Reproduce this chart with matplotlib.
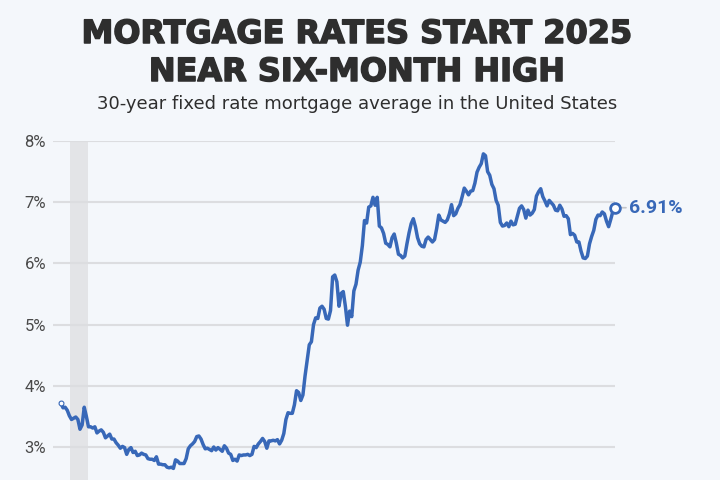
import matplotlib
matplotlib.use("Agg")
import matplotlib.pyplot as plt
import matplotlib.patheffects as pe
import pandas as pd

# Weekly 30-year fixed mortgage rate (%), starting 2020-01-02
rates_2020 = [3.72, 3.64, 3.65, 3.60, 3.51, 3.45, 3.47, 3.49, 3.45, 3.29, 3.36, 3.65, 3.50,
              3.33, 3.33, 3.31, 3.33, 3.23, 3.26, 3.28, 3.24, 3.15, 3.18, 3.21, 3.13, 3.13,
              3.07, 3.03, 2.98, 3.01, 2.99, 2.88, 2.96, 2.99, 2.91, 2.93, 2.86, 2.87, 2.90,
              2.88, 2.87, 2.81, 2.80, 2.80, 2.78, 2.84, 2.72, 2.72, 2.71, 2.71, 2.67, 2.66, 2.67]
rates_2021 = [2.65, 2.79, 2.77, 2.73, 2.73, 2.73, 2.81, 2.97, 3.02, 3.05, 3.09, 3.17, 3.18,
              3.13, 3.04, 2.97, 2.98, 2.96, 2.94, 3.00, 2.95, 2.99, 2.96, 2.93, 3.02, 2.98,
              2.90, 2.88, 2.78, 2.80, 2.77, 2.87, 2.86, 2.87, 2.87, 2.88, 2.86, 2.88, 3.01,
              2.99, 3.05, 3.09, 3.14, 3.09, 2.98, 3.10, 3.10, 3.11, 3.10, 3.12, 3.05, 3.11]
rates_2022 = [3.22, 3.45, 3.56, 3.55, 3.55, 3.69, 3.92, 3.89, 3.76, 3.85, 4.16, 4.42, 4.67,
              4.72, 5.00, 5.11, 5.10, 5.27, 5.30, 5.25, 5.10, 5.09, 5.23, 5.78, 5.81, 5.70,
              5.30, 5.51, 5.54, 5.30, 4.99, 5.22, 5.13, 5.55, 5.66, 5.89, 6.02, 6.29, 6.70,
              6.66, 6.92, 6.94, 7.08, 6.95, 7.08, 6.61, 6.58, 6.49, 6.33, 6.31, 6.27, 6.42]
rates_2023 = [6.48, 6.33, 6.15, 6.13, 6.09, 6.12, 6.32, 6.50, 6.65, 6.73, 6.60, 6.42, 6.32,
              6.28, 6.27, 6.39, 6.43, 6.39, 6.35, 6.39, 6.57, 6.79, 6.71, 6.69, 6.67, 6.71,
              6.81, 6.96, 6.78, 6.81, 6.90, 6.96, 7.09, 7.23, 7.18, 7.12, 7.18, 7.19, 7.31,
              7.49, 7.57, 7.63, 7.79, 7.76, 7.50, 7.44, 7.29, 7.22, 7.03, 6.95, 6.67, 6.61]
rates_2024 = [6.62, 6.66, 6.60, 6.69, 6.63, 6.64, 6.77, 6.90, 6.94, 6.88, 6.74, 6.87, 6.79,
              6.82, 6.88, 7.10, 7.17, 7.22, 7.09, 7.02, 6.94, 7.03, 6.99, 6.95, 6.87, 6.86,
              6.95, 6.89, 6.77, 6.78, 6.73, 6.47, 6.49, 6.46, 6.35, 6.35, 6.20, 6.09, 6.08,
              6.12, 6.32, 6.44, 6.54, 6.72, 6.79, 6.78, 6.84, 6.81, 6.69, 6.60, 6.72, 6.85]
rates_2025 = [6.91]
start_date = "2020-01-02"

recession_start = "2020-02-01"
recession_end = "2020-04-01"

y_ticks = [3, 4, 5, 6, 7, 8]
y_tick_labels = ["3%", "4%", "5%", "6%", "7%", "8%"]

title_lines = ["MORTGAGE RATES START 2025", "NEAR SIX-MONTH HIGH"]
subtitle_text = "30-year fixed rate mortgage average in the United States"

rates = rates_2020 + rates_2021 + rates_2022 + rates_2023 + rates_2024 + rates_2025
dates = pd.date_range(start_date, periods=len(rates), freq="7D")
series = pd.Series(rates, index=dates)

BG = "#f4f7fb"
LINE = "#3868b8"
GRID = "#dcdde0"
TXT = "#2e2e2e"

fig = plt.figure(figsize=(7.2, 4.8), dpi=100, facecolor=BG)
ax = fig.add_axes([53 / 720, 0.0, (615 - 53) / 720, (480 - 141) / 480])
ax.set_facecolor(BG)

ax.axvspan(pd.Timestamp(recession_start), pd.Timestamp(recession_end),
           color="#e3e4e7", zorder=0, lw=0)
for y in y_ticks:
    ax.axhline(y, color=GRID, lw=1.5, zorder=1)

ax.plot(series.index, series.values, color=LINE, lw=2.5, zorder=3,
        solid_joinstyle="round", solid_capstyle="round")
ax.plot(series.index[0], series.values[0], "o", ms=3.5, mfc="white", mec=LINE,
        mew=0.8, zorder=4, clip_on=False)

last_x, last_y = series.index[-1], series.values[-1]
# short gray connector between end marker and label
ax.annotate("", xy=(last_x, last_y), xytext=(11, 0), textcoords="offset pixels",
            arrowprops=dict(arrowstyle="-", color="#c4c5c8", lw=1.2,
                            shrinkA=0, shrinkB=4 * 0.72),
            annotation_clip=False, zorder=2)
ax.plot(last_x, last_y, "o", ms=7, mfc="white", mec=LINE,
        mew=2, zorder=5, clip_on=False)
ax.annotate(f"{last_y:.2f}%", xy=(last_x, last_y),
            xytext=(14, 0), textcoords="offset pixels", va="center", ha="left",
            fontsize=14, fontweight="bold", color=LINE, family="Roboto",
            annotation_clip=False)

days_before = 26
ax.set_xlim(pd.Timestamp(start_date) - pd.Timedelta(days=days_before), series.index[-1])
ax.set_ylim(3 - 33 / 61.2, 8)
ax.set_yticks(y_ticks)
ax.set_yticklabels(y_tick_labels, fontsize=12, color="#4a4a4a", family="Roboto")
ax.tick_params(axis="y", length=0, pad=5)
ax.set_xticks([])
for s in ax.spines.values():
    s.set_visible(False)

heavy = [pe.withStroke(linewidth=1.1, foreground=TXT)]
cx = 0.496
fig.text(cx, 1 - 43 / 480, title_lines[0], ha="center", va="baseline", fontsize=23,
         fontweight="bold", color=TXT, family="DejaVu Sans", path_effects=heavy)
fig.text(cx, 1 - 81 / 480, title_lines[1], ha="center", va="baseline", fontsize=23,
         fontweight="bold", color=TXT, family="DejaVu Sans", path_effects=heavy)
fig.text(cx, 1 - 109 / 480, subtitle_text, ha="center", va="baseline", fontsize=13,
         color=TXT, family="DejaVu Sans")

fig.savefig("out.png", dpi=100, facecolor=BG)
